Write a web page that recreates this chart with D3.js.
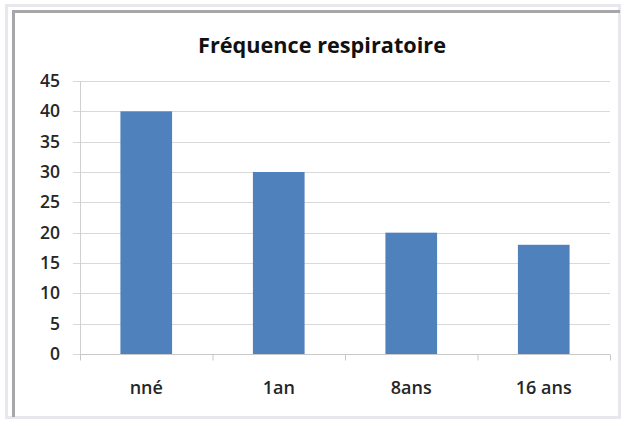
<!DOCTYPE html>
<html><head><meta charset="utf-8">
<script src="https://cdn.jsdelivr.net/npm/d3@7"></script>
<style>html,body{margin:0;padding:0;background:#fff;}svg{display:block;}</style>
</head><body>
<svg id="c" width="623" height="421"></svg>
<script>
const categories = ["nné", "1an", "8ans", "16 ans"];
const values = [40, 30, 20, 18];
const yTicks = [0, 5, 10, 15, 20, 25, 30, 35, 40, 45];
const title = "Fréquence respiratoire";

const svg = d3.select("#c");
const font = "'Open Sans', 'Liberation Sans', sans-serif";

// frame
svg.append("rect").attr("x", 6.5).attr("y", 5.5).attr("width", 613).attr("height", 412)
  .attr("fill", "none").attr("stroke", "#e9e7ee").attr("stroke-width", 3);
svg.append("path").attr("d", "M13.5,417 V11.5 H620")
  .attr("fill", "none").attr("stroke", "#a7a7aa").attr("stroke-width", 3);

const m = {l: 80, r: 610, t: 81, b: 354};
const x = d3.scaleBand().domain(categories).range([m.l, m.r]).paddingInner(0.61).paddingOuter(0.305);
const y = d3.scaleLinear().domain([0, 45]).range([m.b, m.t]);

// gridlines
svg.append("g").selectAll("line").data(yTicks).join("line")
  .attr("x1", m.l - 7).attr("x2", m.r).attr("y1", d => Math.round(y(d)) + 0.5).attr("y2", d => Math.round(y(d)) + 0.5)
  .attr("stroke", "#d9d9d9").attr("stroke-width", 1);

// y axis line
svg.append("line").attr("x1", m.l + 0.5).attr("x2", m.l + 0.5).attr("y1", m.t).attr("y2", m.b)
  .attr("stroke", "#d0d0d0");

// y labels
const ya = svg.append("g").attr("transform", `translate(${m.l},0)`)
  .call(d3.axisLeft(y).tickValues(yTicks).tickSize(0).tickPadding(20));
ya.select(".domain").remove();
ya.selectAll("text").attr("font-family", font).attr("font-size", 17.5).attr("font-weight", 600).attr("fill", "#262626");

// bars
svg.append("g").selectAll("rect").data(values).join("rect")
  .attr("x", (d, i) => x(categories[i])).attr("width", x.bandwidth())
  .attr("y", d => y(d)).attr("height", d => y(0) - y(d))
  .attr("fill", "#4f81bd");

// x axis
const xa = svg.append("g").attr("transform", `translate(0,${Math.round(m.b) + 0.5})`)
  .call(d3.axisBottom(x).tickSize(0).tickPadding(27));
xa.select(".domain").attr("stroke", "#c8c8c8").attr("d", `M${m.l},0H${m.r}`);
xa.selectAll("text").attr("font-family", font).attr("font-size", 18).attr("font-weight", 600).attr("fill", "#262626");
const bounds = d3.range(categories.length + 1).map(i => m.l + i * (m.r - m.l) / categories.length);
xa.selectAll("line.bt").data(bounds).join("line").attr("class", "bt")
  .attr("x1", d => d + 0.5).attr("x2", d => d + 0.5).attr("y1", 0).attr("y2", 6).attr("stroke", "#c8c8c8");

// title
svg.append("text").attr("x", 322).attr("y", 53).attr("text-anchor", "middle")
  .attr("font-family", font).attr("font-size", 21).attr("font-weight", 700).attr("fill", "#111")
  .attr("textLength", 248).attr("lengthAdjust", "spacingAndGlyphs")
  .text(title);
</script>
</body></html>
